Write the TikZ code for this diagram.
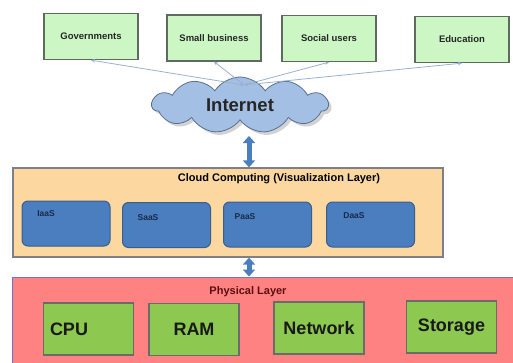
\documentclass[tikz,border=0pt]{standalone}
\usepackage{fontspec}
\setmainfont{Liberation Sans}
\usetikzlibrary{shapes.symbols,shadows,arrows.meta,calc}

\definecolor{usergreen}{HTML}{CCF7C4}
\definecolor{userline}{HTML}{5E6B5E}
\definecolor{linkblue}{HTML}{9AB0D4}
\definecolor{cloudfill}{HTML}{A3BFE3}
\definecolor{cloudline}{HTML}{5B7090}
\definecolor{layerfill}{HTML}{FCD8A0}
\definecolor{layerline}{HTML}{7F7F8A}
\definecolor{svcfill}{HTML}{4A7EBE}
\definecolor{svcline}{HTML}{3A5E8C}
\definecolor{svctext}{HTML}{1A2A4A}
\definecolor{physfill}{HTML}{FF8282}
\definecolor{physline}{HTML}{7474C4}
\definecolor{phystitle}{HTML}{5C0E12}
\definecolor{hwfill}{HTML}{8DC851}
\definecolor{hwline}{HTML}{6B6B6B}
\definecolor{dblblue}{HTML}{4A7EBE}

\begin{document}
\begin{tikzpicture}[x=1pt,y=-1pt,
  userbox/.style={draw=userline, line width=1.3pt, fill=usergreen,
    minimum width=94pt, minimum height=46pt, inner sep=0pt,
    font=\bfseries\fontsize{9.5}{11}\selectfont, text=black!85},
  link/.style={draw=linkblue, line width=0.8pt,
    {Stealth[length=4pt,width=3.5pt]}-{Stealth[length=4pt,width=3.5pt]}},
  netcloud/.style={cloud, cloud puffs=11, cloud puff arc=115, aspect=3.1,
    draw=cloudline, line width=0.8pt, fill=cloudfill,
    minimum width=176pt, minimum height=56pt, inner sep=0pt,
    drop shadow={shadow xshift=3pt, shadow yshift=-3pt, fill=black!35},
    font=\bfseries\fontsize{18.5}{20}\selectfont, text=black!85},
  dbl/.style={draw=dblblue, line width=5pt,
    {Triangle[width=12pt,length=7pt]}-{Triangle[width=12pt,length=7pt]}},
  layerbox/.style={draw=layerline, line width=1.3pt, fill=layerfill, inner sep=0pt},
  layertitle/.style={font=\bfseries\fontsize{11}{13}\selectfont, inner sep=0pt},
  svcbox/.style={draw=svcline, line width=1pt, fill=svcfill, rounded corners=6pt,
    minimum width=88pt, minimum height=45pt, inner sep=0pt},
  svclabel/.style={font=\bfseries\fontsize{8.5}{10}\selectfont, text=svctext, inner sep=0pt},
  physbox/.style={draw=physline, line width=1pt, fill=physfill, inner sep=0pt},
  hwbox/.style={draw=hwline, line width=1.3pt, fill=hwfill,
    minimum width=90pt, minimum height=52pt, inner sep=0pt,
    font=\bfseries\fontsize{18}{20}\selectfont, text=black!90}
]
\useasboundingbox (0,0) rectangle (513,362);
\fill[white] (0,0) rectangle (513,362);
\clip (0,0) rectangle (513,362);

% user groups
\node[userbox] (gov) at (91,36.5) {Governments};
\node[userbox] (smb) at (214,38) {Small business};
\node[userbox] (soc) at (329,38.5) {Social users};
\node[userbox] (edu) at (462,39.5) {Education};

% internet cloud
\node[netcloud] (internet) at (240,105) {Internet};
\coordinate (hub) at (244,85);
\draw[link] (hub) -- (gov.south);
\draw[link] (hub) -- (smb.south);
\draw[link] (hub) -- (soc.south);
\draw[link] (hub) -- (edu.south);

% virtualization layer
\node[layerbox, minimum width=430pt, minimum height=89pt] (ccl) at (228,212.5) {};
\node[layertitle] (ccl-title) at (279,179) {Cloud Computing (Visualization Layer)};
\node[svcbox] (iaas) at (66,223.5) {};
\node[svcbox] (saas) at (166.5,225) {};
\node[svcbox] (paas) at (267.5,224.5) {};
\node[svcbox] (daas) at (370.5,224.5) {};
\node[svclabel] (iaas-l) at (46,214) {IaaS};
\node[svclabel] (saas-l) at (148,218) {SaaS};
\node[svclabel] (paas-l) at (245,217) {PaaS};
\node[svclabel] (daas-l) at (354,216) {DaaS};

% physical layer
\node[physbox, minimum width=513pt, minimum height=95pt] (phys) at (268.5,324.5) {};
\node[layertitle, text=phystitle] (phys-title) at (248,292) {Physical Layer};
\node[hwbox, text width=77pt, align=left] (cpu) at (88.5,329) {CPU};
\node[hwbox] (ram) at (194,329.5) {RAM};
\node[hwbox] (net) at (319,328) {Network};
\node[hwbox] (sto) at (451.5,327) {Storage};

% links between layers
\coordinate (cloudfoot) at (249,136);
\draw[dbl] (cloudfoot) -- (ccl.north -| cloudfoot);
\draw[dbl] (ccl.south -| cloudfoot) -- (phys.north -| cloudfoot);
\end{tikzpicture}
\end{document}
